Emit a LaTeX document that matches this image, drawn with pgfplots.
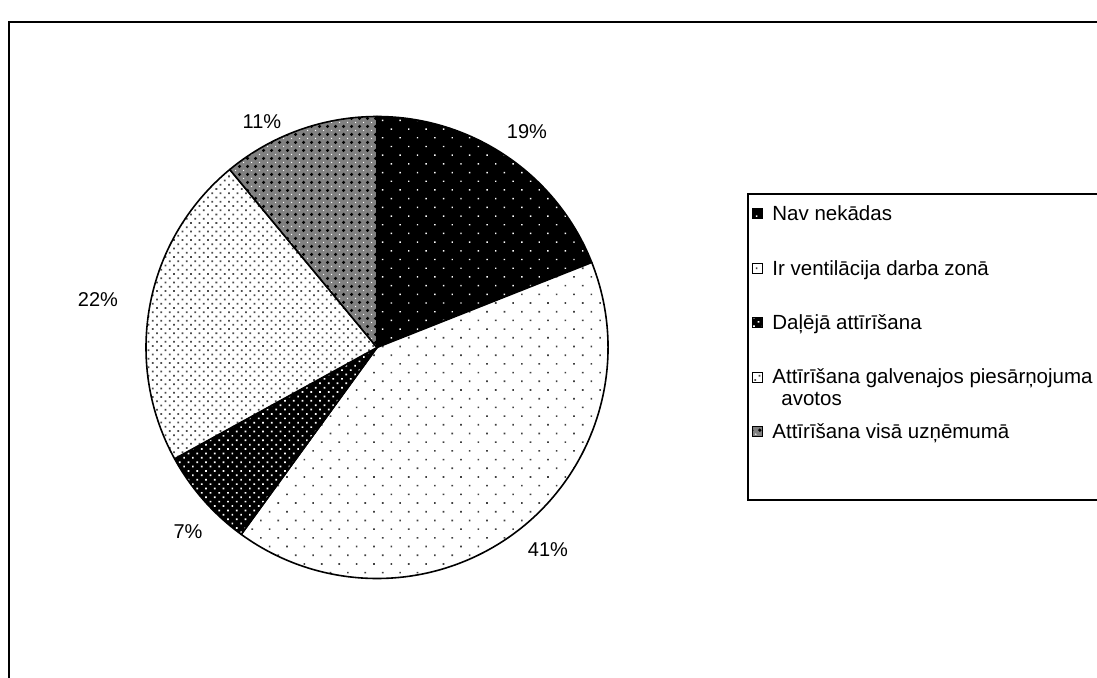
\documentclass[border=0pt]{standalone}
\usepackage{pgfplots}
\pgfplotsset{compat=1.18}
\usepackage{pgfplotstable}
\usepackage{fontspec}
\setmainfont{Liberation Sans}
\usetikzlibrary{patterns.meta}

% share of each answer (percent), clockwise from 12 o'clock,
% and where its percentage label sits
\pgfplotstableread{
value lx  ly
19    527 545
41    548 127
7     188 145
22    98  377
11    262 555
}\piedata

\tikzset{
  bg0/.style={fill=black},
  fg0/.style={pattern={Dots[distance=6.15pt,radius=0.5pt,angle=45]},pattern color=white},
  ex0/.style={},
  bg1/.style={fill=white},
  fg1/.style={pattern={Dots[distance=6.15pt,radius=0.58pt,angle=45]},pattern color=black!75},
  ex1/.style={},
  bg2/.style={fill=black},
  fg2/.style={pattern={Dots[distance=3.1pt,radius=0.6pt,angle=45]},pattern color=white},
  ex2/.style={},
  bg3/.style={fill=white},
  fg3/.style={pattern={Dots[distance=3.0pt,radius=0.62pt,angle=45]},pattern color=black!70},
  ex3/.style={},
  bg4/.style={fill=black!50},
  fg4/.style={pattern={Dots[distance=4pt,radius=0.95pt]},pattern color=black},
  ex4/.style={pattern={Dots[distance=4pt,radius=0.4pt,xshift=2pt,yshift=2pt]},pattern color=white},
}

\begin{document}
\begin{tikzpicture}
\useasboundingbox (0,0) rectangle (548.5pt,338.5pt);
\clip (0,0) rectangle (548.5pt,338.5pt);
\begin{axis}[
  at={(0,0)}, anchor=south west,
  x=0.5pt, y=0.5pt,
  xmin=0, xmax=1097, ymin=0, ymax=677,
  scale only axis, hide axis, clip=false,
]
\pgfplotsextra{
  % outer frame
  \draw[line width=1.3pt] (axis cs:9,-30) rectangle (axis cs:1130,655);
  % pie wedges
  \def\R{115.5pt}
  \gdef\pieangle{90}
  \foreach \i in {0,...,4}{
    \pgfplotstablegetelem{\i}{value}\of\piedata
    \pgfmathsetmacro{\b}{\pieangle-3.6*\pgfplotsretval}
    \def\wedge{(axis cs:377,329.5) -- ++(\pieangle:\R) arc[start angle=\pieangle,end angle=\b,radius=\R] -- cycle}
    \path[bg\i] \wedge;
    \path[fg\i] \wedge;
    \path[ex\i] \wedge;
    \draw[line width=0.8pt,line join=round] \wedge;
    \xdef\pieangle{\b}
  }
  % percentage labels
  \foreach \i in {0,...,4}{
    \pgfplotstablegetelem{\i}{value}\of\piedata \let\v\pgfplotsretval
    \pgfplotstablegetelem{\i}{lx}\of\piedata \let\lx\pgfplotsretval
    \pgfplotstablegetelem{\i}{ly}\of\piedata \let\ly\pgfplotsretval
    \node[font=\fontsize{10}{12}\selectfont,inner sep=0pt] at (axis cs:\lx,\ly) {\v\%};
  }
  % legend
  \draw[line width=0.75pt] (axis cs:748,177) rectangle (axis cs:1130,483);
  \foreach \i/\y in {0/464,1/409,2/355,3/300,4/246}{
    \def\sq{(axis cs:752,\y-5) rectangle (axis cs:762,\y+5)}
    \path[bg\i] \sq;
    \path[fg\i] \sq;
    \path[ex\i] \sq;
    \draw[line width=0.5pt] \sq;
  }
  \begin{scope}[every node/.style={font=\fontsize{10.25}{12}\selectfont,inner sep=0pt,anchor=base west}]
    \node at (axis cs:772,457) {Nav nekādas};
    \node at (axis cs:772,402) {Ir ventilācija darba zonā};
    \node at (axis cs:772,348) {Daļējā attīrīšana};
    \node at (axis cs:772,294) {Attīrīšana galvenajos piesārņojuma};
    \node at (axis cs:781,272) {avotos};
    \node at (axis cs:772,239) {Attīrīšana visā uzņēmumā};
  \end{scope}
}
\end{axis}
\end{tikzpicture}
\end{document}
